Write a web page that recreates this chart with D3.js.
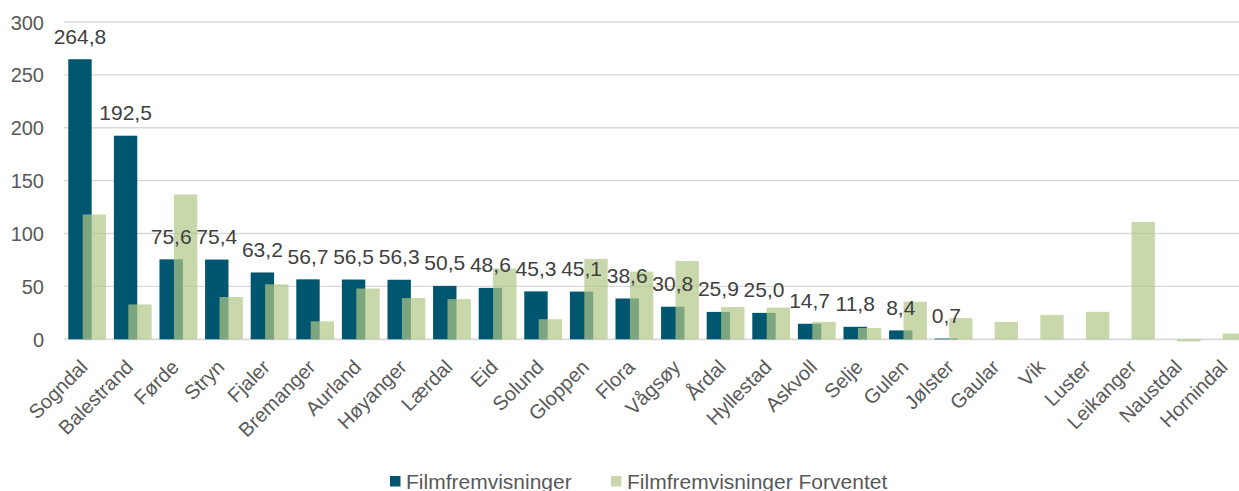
<!DOCTYPE html>
<html>
<head>
<meta charset="utf-8">
<script src="https://d3js.org/d3.v7.min.js"></script>
<style>
  body { margin: 0; background: #fff; }
  svg { display: block; font-family: "Liberation Sans", Arial, sans-serif; }
  .tick text { fill: #595959; font-size: 20px; }
  .cat { fill: #595959; font-size: 19.5px; }
  .lbl { fill: #404040; font-size: 21px; }
  .leg { fill: #595959; font-size: 21px; }
</style>
</head>
<body>
<script>
// categories (kommuner)
var kommuner = ["Sogndal", "Balestrand", "Førde", "Stryn", "Fjaler", "Bremanger", "Aurland",
  "Høyanger", "Lærdal", "Eid", "Solund", "Gloppen", "Flora", "Vågsøy", "Årdal", "Hyllestad",
  "Askvoll", "Selje", "Gulen", "Jølster", "Gaular", "Vik", "Luster", "Leikanger", "Naustdal", "Hornindal"];

// Filmfremvisninger (labels in chart)
var faktisk = [264.8, 192.5, 75.6, 75.4, 63.2, 56.7, 56.5, 56.3, 50.5, 48.6, 45.3, 45.1, 38.6,
  30.8, 25.9, 25.0, 14.7, 11.8, 8.4, 0.7, null, null, null, null, null, null];

// Filmfremvisninger Forventet
var forventet = [118, 33, 137, 40, 52, 17, 48, 39, 38, 67, 19, 76, 64,
  74, 30.5, 30, 16.5, 10.7, 35.5, 20, 16.5, 23, 26, 111, -2, 5.5];

var yTicks = [0, 50, 100, 150, 200, 250, 300];

var seriesNames = ["Filmfremvisninger", "Filmfremvisninger Forventet"];
var colDark = "#00566f";
var colLight = "#b0c788";

var W = 1239, H = 491;
var svg = d3.select("body").append("svg").attr("width", W).attr("height", H);

var x = d3.scaleBand().domain(kommuner).range([64, 1249.6]);
var y = d3.scaleLinear().domain([0, 300]).range([339.3, 22]);
var step = x.step();

// gridlines + y-axis labels
var yAxis = d3.axisLeft(y).tickValues(yTicks).tickSize(0).tickPadding(0)
  .tickFormat(d3.format("d"));
var gy = svg.append("g").attr("transform", "translate(44,0)").call(yAxis);
gy.select(".domain").remove();
gy.selectAll(".tick text").attr("dy", "0.35em");

svg.append("g").selectAll("line").data(yTicks).enter().append("line")
  .attr("x1", 64).attr("x2", W)
  .attr("y1", function (d) { return y(d); })
  .attr("y2", function (d) { return y(d); })
  .attr("stroke", "#d9d9d9")
  .attr("stroke-width", function (d) { return d === 0 ? 1.8 : 1.4; });

var rows = kommuner.map(function (k, i) { return { k: k, a: faktisk[i], b: forventet[i] }; });

// dark bars
svg.append("g").selectAll("rect").data(rows.filter(function (d) { return d.a != null; }))
  .enter().append("rect")
  .attr("x", function (d) { return x(d.k) + step * 0.094; })
  .attr("width", step * 0.513)
  .attr("y", function (d) { return y(d.a); })
  .attr("height", function (d) { return y(0) - y(d.a); })
  .attr("fill", colDark);

// light bars (semi transparent, overlapping)
svg.append("g").selectAll("rect").data(rows).enter().append("rect")
  .attr("x", function (d) { return x(d.k) + step * 0.41; })
  .attr("width", step * 0.513)
  .attr("y", function (d) { return y(Math.max(0, d.b)); })
  .attr("height", function (d) { return Math.abs(y(0) - y(d.b)); })
  .attr("fill", colLight)
  .attr("fill-opacity", 0.7);

// data labels
var fmt = function (v) { return d3.format(".1f")(v).replace(".", ","); };
svg.append("g").selectAll("text").data(rows.filter(function (d) { return d.a != null; }))
  .enter().append("text")
  .attr("class", "lbl")
  .attr("text-anchor", "middle")
  .attr("x", function (d) { return x(d.k) + step * (0.094 + 0.513 / 2); })
  .attr("y", function (d) { return y(d.a) - 15.5; })
  .text(function (d) { return fmt(d.a); });

// category labels
var xAxis = d3.axisBottom(x).tickSize(0).tickPadding(0);
var gx = svg.append("g").attr("transform", "translate(0,339.3)").call(xAxis);
gx.select(".domain").remove();
gx.selectAll(".tick text")
  .attr("class", "cat")
  .attr("text-anchor", "end")
  .attr("dy", null)
  .attr("y", 0)
  .attr("transform", "translate(2,29) rotate(-45)");

// legend
var leg = svg.append("g");
var legX = [390, 611];
[colDark, colLight].forEach(function (c, i) {
  leg.append("rect").attr("x", legX[i]).attr("y", 476).attr("width", 10.5).attr("height", 10.5)
    .attr("fill", c).attr("fill-opacity", i === 1 ? 0.7 : 1);
  leg.append("text").attr("class", "leg").attr("x", legX[i] + 16).attr("y", 488.5)
    .text(seriesNames[i]);
});
</script>
</body>
</html>
